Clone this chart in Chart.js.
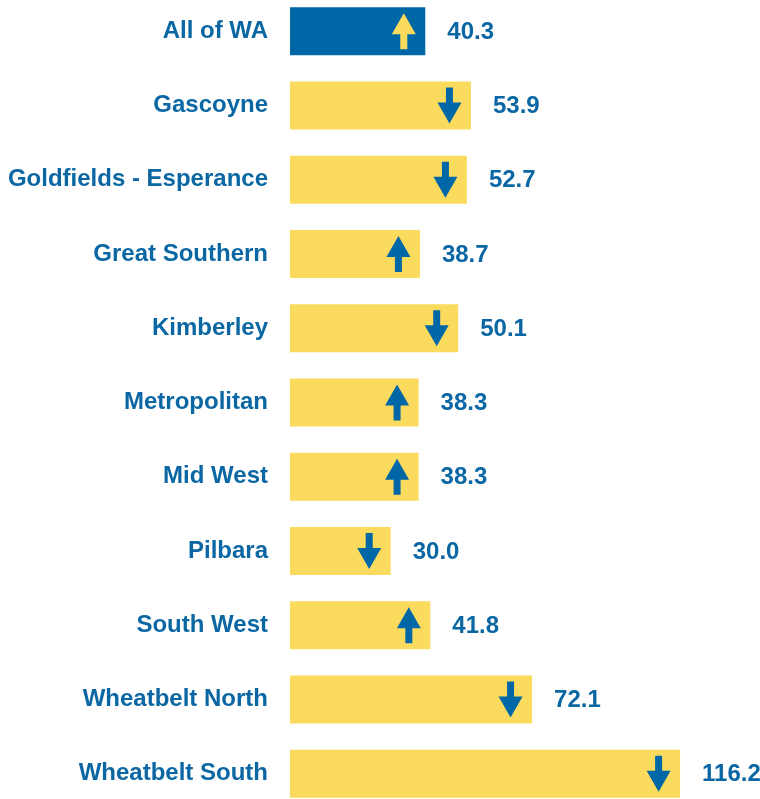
<!DOCTYPE html>
<html>
<head>
<meta charset="utf-8">
<script src="https://cdn.jsdelivr.net/npm/chart.js@4"></script>
<style>
    html, body { margin: 0; padding: 0; background: #fff; overflow: hidden; }
    body { width: 760px; height: 799px; position: relative; }
    #chart { position: absolute; left: 0; top: -6px; }
</style>
</head>
<body>
<canvas id="chart" width="760" height="817"></canvas>
<script>
// Regions and values
const regions = [
    'All of WA', 'Gascoyne', 'Goldfields - Esperance', 'Great Southern', 'Kimberley',
    'Metropolitan', 'Mid West', 'Pilbara', 'South West', 'Wheatbelt North', 'Wheatbelt South'
];
const values = [40.3, 53.9, 52.7, 38.7, 50.1, 38.3, 38.3, 30.0, 41.8, 72.1, 116.2];
const trends = ['up', 'down', 'down', 'up', 'down', 'up', 'up', 'down', 'up', 'down', 'down'];

const BLUE = '#0067a6';
const YELLOW = '#fadb5e';
const TEXT = '#0a67a3';
const FONT = '"Liberation Sans", Arial, sans-serif';

// Draw trend arrows inside bars and value labels after them
const arrowsAndLabels = {
    id: 'arrowsAndLabels',
    afterDatasetsDraw(chart) {
        const ctx = chart.ctx;
        const meta = chart.getDatasetMeta(0);
        ctx.save();
        meta.data.forEach((bar, i) => {
            const cx = bar.x - 21.5;
            const cy = bar.y;
            const dir = trends[i] === 'up' ? 1 : -1;
            ctx.fillStyle = i === 0 ? YELLOW : BLUE;
            ctx.beginPath();
            ctx.moveTo(cx, cy - 18 * dir);
            ctx.lineTo(cx + 12, cy + 3 * dir);
            ctx.lineTo(cx + 3.5, cy + 3 * dir);
            ctx.lineTo(cx + 3.5, cy + 18 * dir);
            ctx.lineTo(cx - 3.5, cy + 18 * dir);
            ctx.lineTo(cx - 3.5, cy + 3 * dir);
            ctx.lineTo(cx - 12, cy + 3 * dir);
            ctx.closePath();
            ctx.fill();

            ctx.fillStyle = TEXT;
            ctx.font = 'bold 24px ' + FONT;
            ctx.textAlign = 'left';
            ctx.textBaseline = 'middle';
            ctx.fillText(values[i].toFixed(1), bar.x + 22, cy + 1);
        });
        ctx.restore();
    }
};

const ctx = document.getElementById('chart').getContext('2d');
new Chart(ctx, {
    type: 'bar',
    data: {
        labels: regions,
        datasets: [{
            data: values,
            backgroundColor: regions.map((r, i) => i === 0 ? BLUE : YELLOW),
            borderWidth: 0,
            barPercentage: 0.646,
            categoryPercentage: 1
        }]
    },
    options: {
        indexAxis: 'y',
        responsive: false,
        animation: false,
        devicePixelRatio: 1,
        layout: { padding: 0 },
        scales: {
            x: {
                display: false,
                min: 0,
                max: 140
            },
            y: {
                grid: { display: false, drawTicks: false },
                border: { display: false },
                ticks: {
                    color: TEXT,
                    font: { family: FONT, size: 24, weight: 'bold' },
                    padding: 22
                },
                afterFit(scale) {
                    scale.width = 290;
                    scale.paddingTop = 0;
                    scale.paddingBottom = 0;
                }
            }
        },
        plugins: {
            legend: { display: false },
            tooltip: { enabled: false }
        }
    },
    plugins: [arrowsAndLabels]
});
</script>
</body>
</html>
